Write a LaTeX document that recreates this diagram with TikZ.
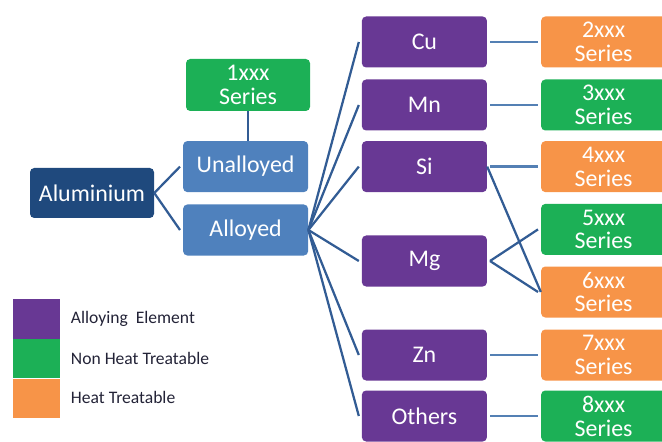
\documentclass[tikz,border=0pt]{standalone}
\usepackage{fontspec}
\setmainfont{Carlito}
\usepackage{tikz}
\usetikzlibrary{positioning}
\definecolor{alunavy}{RGB}{31,73,125}
\definecolor{alloyblue}{RGB}{79,129,189}
\definecolor{elempurple}{RGB}{104,56,148}
\definecolor{nhtgreen}{RGB}{28,176,86}
\definecolor{htorange}{RGB}{247,148,72}
\definecolor{linkblue}{RGB}{50,92,148}
\definecolor{lightlink}{RGB}{84,128,180}
\definecolor{legendtext}{RGB}{35,35,55}

\begin{document}
\begin{tikzpicture}[
        box/.style={rounded corners=3pt, minimum width=3.125cm, minimum height=1.275cm,
                    align=center, text=white, font=\fontsize{17}{17}\selectfont, inner sep=1pt},
        alubox/.style={box, fill=alunavy, minimum width=3.1cm, minimum height=1.25cm},
        typebox/.style={box, fill=alloyblue},
        elembox/.style={box, fill=elempurple},
        nhtbox/.style={box, fill=nhtgreen},
        htbox/.style={box, fill=htorange},
        swatch/.style={minimum width=1.175cm, minimum height=0.98cm, inner sep=0pt},
        keytext/.style={anchor=west, text=legendtext, font=\fontsize{12.5}{14}\selectfont},
        link/.style={draw=linkblue, line width=1.6pt},
        hlink/.style={draw=lightlink, line width=1.6pt}
      ]
        \useasboundingbox (0,0) rectangle (16.55,11.025);
        \clip (0,0) rectangle (16.55,11.025);

        % main tree
        \node[alubox] (alu) at (2.3,6.2) {Aluminium};
        \node[typebox] (unall) at (6.14,6.86) {Unalloyed};
        \node[typebox] (alloy) at (6.14,5.275) {Alloyed};
        \node[nhtbox, minimum width=3.1cm, minimum height=1.3cm] (s1) at (6.2,8.9) {1xxx\\Series};

        % alloying elements
        \node[elembox] (cu)  at (10.61,9.975) {Cu};
        \node[elembox] (mn)  at (10.61,8.4)   {Mn};
        \node[elembox] (si)  at (10.61,6.86)  {Si};
        \node[elembox] (mg)  at (10.61,4.5)   {Mg};
        \node[elembox] (zn)  at (10.61,2.15)  {Zn};
        \node[elembox] (oth) at (10.61,0.625) {Others};

        % series
        \node[htbox]  (s2) at (15.09,9.975) {2xxx\\Series};
        \node[nhtbox] (s3) at (15.09,8.4)   {3xxx\\Series};
        \node[htbox]  (s4) at (15.09,6.86)  {4xxx\\Series};
        \node[nhtbox] (s5) at (15.09,5.29)  {5xxx\\Series};
        \node[htbox]  (s6) at (15.09,3.725) {6xxx\\Series};
        \node[htbox]  (s7) at (15.09,2.15)  {7xxx\\Series};
        \node[nhtbox] (s8) at (15.09,0.625) {8xxx\\Series};

        \draw[link] (s1.south) -- (s1.south |- unall.north);
        \draw[link] (alu.east) -- ([xshift=-2pt]unall.west);
        \draw[link] (alu.east) -- ([xshift=-2pt]alloy.west);
        \foreach \el in {cu,mn,si,mg,zn,oth}
          \draw[link] (alloy.east) -- ([xshift=-2pt]\el.west);

        \draw[hlink] ([xshift=2pt]cu.east) -- ([xshift=-2pt]s2.west);
        \draw[hlink] ([xshift=2pt]mn.east) -- ([xshift=-2pt]s3.west);
        \draw[hlink] ([xshift=2pt]si.east) -- ([xshift=-2pt]s4.west);
        \draw[hlink] ([xshift=2pt]zn.east) -- ([xshift=-2pt]s7.west);
        \draw[hlink] ([xshift=2pt]oth.east) -- ([xshift=-2pt]s8.west);
        \draw[link] (si.east) -- (s6.west);
        \draw[link] ([xshift=2pt]mg.east) -- ([xshift=-2pt]s5.west);
        \draw[link] ([xshift=2pt]mg.east) -- ([xshift=-2pt]s6.west);

        % legend
        \node[swatch, fill=elempurple] (kpur) at (0.9125,3.05) {};
        \node[swatch, fill=nhtgreen, below=0pt of kpur] (kgrn) {};
        \node[swatch, fill=htorange, below=0pt of kgrn] (kora) {};
        \node[keytext] (tpur) at (1.65,3.05) {Alloying~ Element};
        \node[keytext] (tgrn) at (1.65,2.07) {Non Heat Treatable};
        \node[keytext] (tora) at (1.65,1.09) {Heat Treatable};
      \end{tikzpicture}
\end{document}
